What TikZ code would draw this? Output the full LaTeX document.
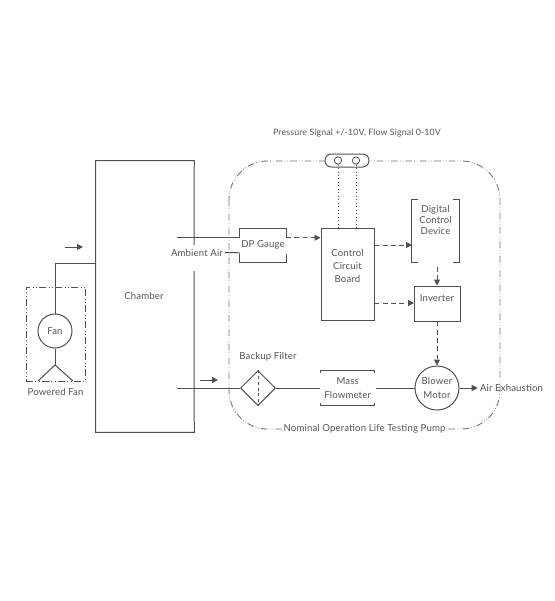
\documentclass[tikz,border=0pt]{standalone}
\usepackage{fontspec}
\setmainfont[LetterSpace=1.5]{Lato}
\usetikzlibrary{positioning,arrows.meta,shapes.geometric}
\definecolor{ink}{HTML}{555555}
\definecolor{edge}{HTML}{505050}
\begin{document}
\begin{tikzpicture}[
    x=0.75pt, y=-0.75pt,
    every node/.style={font=\fontsize{7.2}{8.3}\selectfont, text=ink, align=center, inner sep=0pt},
    pipe/.style={draw=edge, line width=0.75pt},
    blockbox/.style={draw=edge, line width=0.75pt},
    roundbox/.style={circle, draw=edge, fill=white, line width=0.75pt},
    flow/.style={-{Triangle[length=4.5pt,width=4.5pt]}, draw=edge, line width=0.75pt},
    sigflow/.style={flow, dash pattern=on 3.6pt off 2.6pt},
    bound/.style={draw=edge!80, line width=0.65pt, dash pattern=on 5pt off 1.6pt on 0.5pt off 1.6pt on 0.5pt off 1.6pt},
    wire/.style={draw=edge, line width=0.6pt, dotted},
    tag/.style={fill=white, inner xsep=1.5pt, inner ysep=1pt},
  ]
  \useasboundingbox (0,0) rectangle (555,601);
  \fill[white] (0,0) rectangle (555,601);

  % the pump boundary, behind everything else
  \draw[bound, rounded corners=29pt] (229,161) rectangle (500,429);

  % chamber, right edge broken for the ambient air label
  \node[minimum width=73.5pt, minimum height=203.25pt] (chamber) at (145,296.5) {};
  \coordinate (gapT) at (194,245);
  \coordinate (gapB) at (194,271);
  \draw[pipe] (gapT) -- (chamber.north east) -- (chamber.north west)
        -- (chamber.south west) -- (chamber.south east) -- (gapB);
  \node (chamberlab) at (144,296) {Chamber};

  % powered fan
  \node[roundbox, minimum size=25.5pt] (fan) at (55,331) {Fan};
  \node[draw=edge, line width=0.6pt, minimum width=44.25pt, minimum height=70.5pt,
        dash pattern=on 5pt off 2pt on 0.5pt off 2pt on 0.5pt off 2pt] (fanbox) at (55.5,334) {};
  \coordinate (fork) at (55,365);
  \coordinate (legL) at (38,381);
  \coordinate (legR) at (73,381);
  \coordinate (duct) at (55,263);
  \draw[pipe] (fan.north) -- (duct) -- (duct -| chamber.west);
  \draw[pipe] (fan.south) -- (fork);
  \draw[pipe] (legL) -- (fork) -- (legR);
  \node[below=5pt of fanbox.south] (fanlab) {Powered Fan};

  % main air line
  \node[diamond, draw=edge, line width=0.75pt, minimum size=26.25pt] (filter) at (258,388) {};
  \draw[pipe, dash pattern=on 2.2pt off 2.2pt] (filter.north) -- (filter.south);
  \node (filterlab) at (268,357) {Backup Filter};
  \coordinate (inlet) at (177,388);
  \draw[pipe] (inlet) -- (filter.west);

  \node[minimum width=39.75pt, minimum height=25.5pt] (mass) at (347.7,388) {Mass\\[2pt]Flowmeter};
  \draw[pipe] ([yshift=-1.6pt]mass.north west) -- (mass.north west) -- (mass.north east) -- ([yshift=-1.6pt]mass.north east);
  \draw[pipe] ([yshift=1.6pt]mass.south west) -- (mass.south west) -- (mass.south east) -- ([yshift=1.6pt]mass.south east);
  \draw[pipe] (filter.east) -- ([xshift=-1pt]mass.west);

  \node[roundbox, minimum size=33pt] (blower) at (437,388) {Blower\\[2pt]Motor};
  \draw[pipe] ([xshift=1.5pt]mass.east) -- (blower.west);
  \node (exhaust) at (511.5,388) {Air Exhaustion};
  \draw[flow] (blower.east) -- ([xshift=-1.5pt]exhaust.west);

  % control board and signal connector
  \node[blockbox, minimum width=39.75pt, minimum height=69pt] (board) at (347.5,274) {};
  \node (boardlab) at (347.5,266) {Control\\[1.4pt]Circuit\\[1.4pt]Board};
  \node[draw=edge, fill=white, line width=0.75pt, rounded corners=4.8pt,
        minimum width=33pt, minimum height=9.75pt] (plug) at (347,160.5) {};
  \foreach \name/\x in {pinA/338, pinB/356} {
    \node[draw=edge, circle, line width=0.6pt, minimum size=5.5pt] (\name) at (\x,160.5) {};
    \draw[wire] (\name.south) -- (\name.south |- board.north);
  }
  \node[font=\fontsize{6.6}{8}\selectfont] (siglab) at (357,133) {Pressure Signal +/-10V, Flow Signal 0-10V};

  % dp gauge, open at the sides for its text
  \node[minimum width=34.5pt, minimum height=25pt] (dp) at (263,245.3) {};
  \node (dplab) at (263,244.5) {DP Gauge};
  \draw[pipe] ([yshift=-6.5pt]dp.north west) -- (dp.north west) -- (dp.north east) -- ([yshift=-6.5pt]dp.north east);
  \draw[pipe] ([yshift=6.5pt]dp.south west) -- (dp.south west) -- (dp.south east) -- ([yshift=6.5pt]dp.south east);
  \coordinate (dpin) at (240,237.7);
  \coordinate (dpout) at (286,237.7);
  \coordinate (dpair) at (240,252.8);
  \coordinate (probe) at (177,237.7);
  \draw[pipe] (probe) -- (dpin);
  \node[tag] (ambient) at (197,252.5) {Ambient Air};
  \draw[pipe] (ambient.east) -- (dpair);
  \draw[sigflow] (dpout) -- (dpout -| board.west);

  % digital control device and inverter
  \node[minimum width=35.25pt, minimum height=46.5pt] (digital) at (435.5,231) {};
  \node (digitallab) at (435.5,220) {Digital\\Control\\Device};
  \draw[pipe] ([xshift=5pt]digital.north west) -- (digital.north west) -- (digital.south west) -- ([xshift=5pt]digital.south west);
  \draw[pipe] ([xshift=-5pt]digital.north east) -- (digital.north east) -- (digital.south east) -- ([xshift=-5pt]digital.south east);
  \node[blockbox, minimum width=34.5pt, minimum height=26.25pt] (inverter) at (437,303.5) {};
  \node (inverterlab) at (437,298) {Inverter};

  \coordinate (digin) at (412,245);
  \coordinate (invin) at (414,303);
  \draw[sigflow] (digin -| board.east) -- (digin);
  \draw[sigflow] (invin -| board.east) -- (invin);
  \draw[sigflow] ([yshift=-3.5pt]digital.south -| inverter.north) -- (inverter.north);
  \draw[sigflow] (inverter.south) -- (blower.north);

  % air direction arrows
  \coordinate (upA) at (65,247);
  \coordinate (upB) at (83,247);
  \coordinate (loA) at (200,380);
  \coordinate (loB) at (218,380);
  \draw[flow] (upA) -- (upB);
  \draw[flow] (loA) -- (loB);

  \node[tag] (pumplab) at (364.5,428.5) {Nominal Operation Life Testing Pump};
\end{tikzpicture}
\end{document}
